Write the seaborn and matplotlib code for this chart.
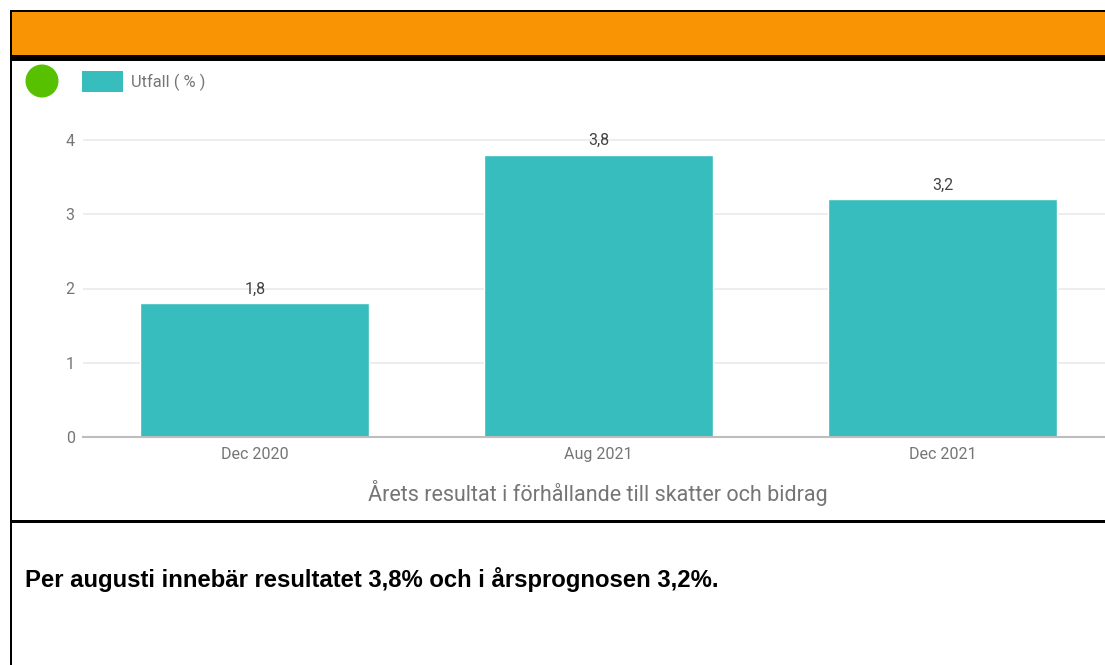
import matplotlib
matplotlib.use("Agg")
import matplotlib.pyplot as plt
import matplotlib.patches as mpatches
import pandas as pd
import seaborn as sns

# data
categories = ["Dec 2020", "Aug 2021", "Dec 2021"]
values = [1.8, 3.8, 3.2]
series_name = "Utfall ( % )"
x_title = "Årets resultat i förhållande till skatter och bidrag"
comment = "Per augusti innebär resultatet 3,8% och i årsprognosen 3,2%."

W, H = 1105, 665
TEAL = "#37bdbd"

sns.set_theme(style="white")
plt.rcParams['font.family'] = ['Roboto', 'DejaVu Sans']

fig = plt.figure(figsize=(W / 100, H / 100), dpi=100)
fig.patch.set_facecolor("white")


def fx(px):
    return px / W


def fy(py):
    return 1 - py / H


def rect(x0, y0, x1, y1, color):
    fig.add_artist(mpatches.Rectangle((fx(x0), fy(y1)), fx(x1) - fx(x0), fy(y0) - fy(y1),
                                      transform=fig.transFigure, facecolor=color,
                                      edgecolor="none", zorder=5))


# frame: orange header, black borders
rect(10, 10, W, 12, "black")
rect(10, 12, W, 55, "#f99505")
rect(10, 55, W, 61, "black")
rect(10, 10, 12, H, "black")
rect(10, 520, W, 523, "black")

# chart axes (pixel placement)
y0_px, px_per_unit = 437, 74.25
ymax = 4.2
left_px = 83
ax = fig.add_axes([fx(left_px), fy(y0_px), 1 - fx(left_px), ymax * px_per_unit / H])

df = pd.DataFrame({"period": categories, "value": values})
sns.barplot(data=df, x="period", y="value", color=TEAL, width=0.666, ax=ax,
            saturation=1, zorder=3)

ax.set_ylim(0, ymax)
ax.set_xlim(-0.5, (W - 82.5) / 344 - 0.5)
ax.set_yticks([0, 1, 2, 3, 4])
ax.grid(axis="y", color="#e8eaed", linewidth=1.2, zorder=0)
for s in ["top", "right", "left"]:
    ax.spines[s].set_visible(False)
ax.spines["bottom"].set_color("#bdbdbd")
ax.spines["bottom"].set_linewidth(1.5)
ax.spines["bottom"].set_zorder(4)
ax.tick_params(axis="both", length=0, labelsize=11.5, labelcolor="#757575")
ax.tick_params(axis="y", pad=6)
ax.tick_params(axis="x", pad=7)
ax.set_xlabel("")
ax.set_ylabel("")

ax.bar_label(ax.containers[0], labels=[f"{v:.1f}".replace(".", ",") for v in values],
             padding=5, fontsize=11.5, color="#424242")

# legend-like header
fig.add_artist(mpatches.Ellipse((fx(42), fy(81)), 33 / W, 33 / H, transform=fig.transFigure,
                                facecolor="#57c100", edgecolor="none"))
fig.add_artist(mpatches.Rectangle((fx(82), fy(92)), fx(123) - fx(82), fy(71) - fy(92),
                                  transform=fig.transFigure, facecolor=TEAL, edgecolor="none"))
fig.text(fx(131), fy(82), series_name, fontsize=11.8, color="#757575", va="center", ha="left")

fig.text(fx(598), fy(493), x_title, fontsize=15.5, color="#757575", va="center", ha="center")

fig.text(fx(25), fy(580), comment, fontsize=17.2, fontweight="bold", color="black",
         va="center", ha="left", family=["Liberation Sans", "DejaVu Sans"])

fig.savefig("out.png", dpi=100)
plt.close(fig)
